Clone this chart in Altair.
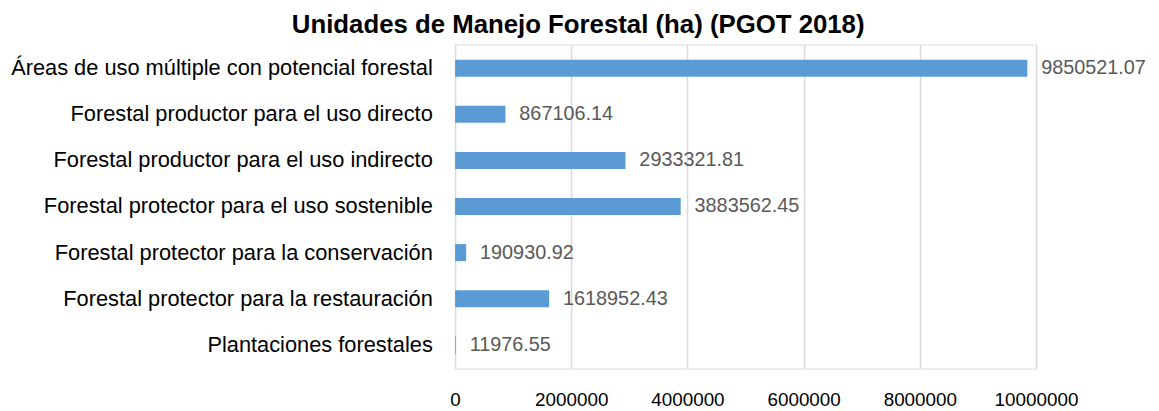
import altair as alt
import pandas as pd

categories = [
    "Áreas de uso múltiple con potencial forestal",
    "Forestal productor para el uso directo",
    "Forestal productor para el uso indirecto",
    "Forestal protector para el uso sostenible",
    "Forestal protector para la conservación",
    "Forestal protector para la restauración",
    "Plantaciones forestales",
]
values = [9850521.07, 867106.14, 2933321.81, 3883562.45, 190930.92, 1618952.43, 11976.55]
labels = ["9850521.07", "867106.14", "2933321.81", "3883562.45", "190930.92", "1618952.43", "11976.55"]
ticks = [0, 2000000, 4000000, 6000000, 8000000, 10000000]

df = pd.DataFrame({"cat": categories, "val": values, "lab": labels})

FONT = "Liberation Sans"

y = alt.Y("cat:N", sort=categories, title=None,
          scale=alt.Scale(paddingInner=0.63, paddingOuter=0.33),
          axis=alt.Axis(labelFont=FONT, labelFontSize=22, labelColor="#000000",
                        ticks=False, domain=False, labelPadding=23, labelLimit=600))
x = alt.X("val:Q", title=None,
          scale=alt.Scale(domain=[0, 10000000], nice=False),
          axis=alt.Axis(values=ticks,
                        format="d", labelFont=FONT, labelFontSize=19, labelColor="#000000",
                        labelOverlap=False, labelFlush=False,
                        ticks=False, domain=False, labelPadding=22,
                        gridColor="#d9d9d9", gridWidth=1.5))

bars = alt.Chart(df).mark_bar(color="#5b9bd5").encode(x=x, y=y)
text = alt.Chart(df).mark_text(align="left", baseline="middle", dx=14, font=FONT,
                               fontSize=20, color="#595959").encode(
    x="val:Q", y=alt.Y("cat:N", sort=categories), text="lab:N")

chart = (bars + text).properties(
    width=586, height=327,
    title=alt.TitleParams("Unidades de Manejo Forestal (ha) (PGOT 2018)", font=FONT,
                          fontSize=26, fontWeight="bold", color="#000000",
                          anchor="middle", frame="bounds", offset=7)
).configure_view(stroke=None).configure(padding={"left": 2, "top": 2, "right": 5, "bottom": 0})

chart.save("out.html", embed_options={"renderer": "svg", "actions": False})
